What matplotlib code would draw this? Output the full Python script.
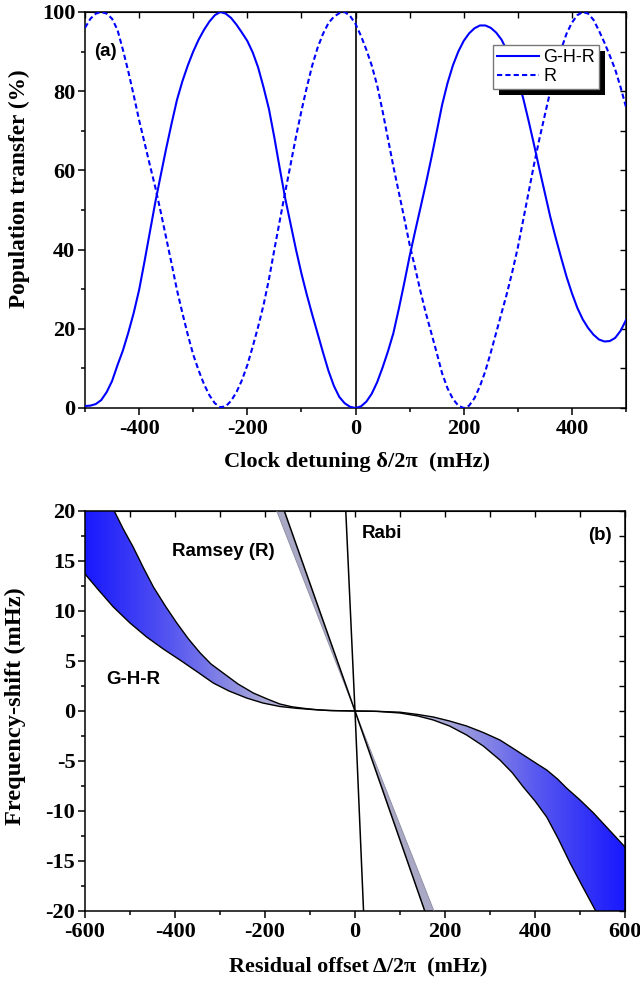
import numpy as np
import matplotlib
matplotlib.use("Agg")
import matplotlib.pyplot as plt
from matplotlib.patches import Polygon, Rectangle
from matplotlib.colors import LinearSegmentedColormap
from matplotlib.ticker import MultipleLocator

plt.rcParams["axes.unicode_minus"] = False

# ---------------- Panel (a) data ----------------
det_x = list(range(-500, 501, 10))
ghr_pop = [0.5, 0.6, 1.0, 2.0, 4.0, 6.8, 10.8, 14.5, 19.0, 24.0,
           29.8, 37.0, 44.5, 52.0, 58.8, 65.5, 71.8, 77.8, 82.5, 86.5,
           90.0, 93.0, 95.5, 97.6, 99.2, 100.0, 99.6, 98.5, 96.8, 94.8,
           92.7, 89.8, 86.0, 81.0, 75.5, 68.3, 60.5, 53.0, 46.5, 40.0,
           34.0, 28.6, 23.6, 18.8, 14.0, 9.4, 5.6, 2.8, 1.2, 0.3,
           0.0, 0.4, 1.6, 3.6, 6.5, 10.2, 14.3, 18.9, 25.0, 31.5,
           38.3, 44.5, 50.5, 56.6, 63.0, 69.7, 76.5, 82.0, 86.5, 90.0,
           92.7, 94.6, 95.9, 96.6, 96.6, 96.0, 94.8, 93.0, 90.2, 86.5,
           83.0, 78.2, 72.5, 66.5, 60.3, 54.3, 48.3, 43.0, 38.0, 33.2,
           29.0, 25.3, 22.4, 20.2, 18.5, 17.3, 16.8, 16.9, 17.7, 19.5,
           22.2]
r_pop = [96.0, 98.3, 99.6, 100.0, 99.6, 98.3, 95.5, 90.5, 85.0, 79.0,
         72.7, 67.0, 61.3, 55.7, 49.5, 43.0, 36.5, 29.8, 24.0, 18.5,
         13.5, 9.5, 6.0, 3.2, 1.2, 0.2, 0.4, 1.8, 4.0, 7.0,
         10.8, 15.5, 20.5, 26.0, 32.5, 40.0, 47.3, 54.5, 61.5, 68.5,
         75.0, 81.0, 86.5, 91.0, 94.5, 97.2, 98.8, 99.7, 100.0, 99.0,
         97.0, 94.0, 90.5, 86.5, 81.5, 75.0, 68.0, 61.0, 54.5, 48.0,
         41.3, 35.5, 29.5, 24.0, 19.0, 14.0, 8.8, 5.0, 2.3, 0.6,
         0.0, 0.6, 2.5, 5.5, 9.3, 14.0, 19.0, 24.0, 29.0, 34.5,
         40.5, 47.5, 54.5, 61.5, 68.0, 74.0, 80.0, 85.5, 90.5, 94.5,
         97.3, 99.2, 100.0, 99.6, 98.0, 95.3, 92.3, 89.0, 85.5, 81.0,
         76.0]
legend_labels = ["G-H-R", "R"]

# ---------------- Panel (b) data ----------------
ghr_outer_x = [-600, -535, -515, -493, -470, -448, -420, -396, -370, -344, -320, -293,
               -260, -226, -195, -167, -140, -107, -80, -50, 0, 50, 100, 140, 174, 210,
               248, 285, 322, 350, 374, 400, 426, 452, 478, 505, 535, 600]
ghr_outer_y = [26, 20, 18.2, 16.4, 14.3, 12.4, 10.4, 8.8, 7.2, 5.8, 4.7, 3.8,
               2.7, 1.8, 1.2, 0.7, 0.42, 0.23, 0.11, 0.04, 0, -0.04, -0.2, -0.5, -0.9, -1.5,
               -2.4, -3.5, -4.9, -6.2, -7.6, -9.0, -10.6, -12.8, -15.2, -17.5, -20, -26]
ghr_inner_x = [-600, -570, -537, -500, -463, -426, -389, -350, -315, -280, -241, -205,
               -167, -130, -96, -60, 0, 40, 100, 140, 174, 210, 248, 285, 322, 350, 381,
               405, 426, 450, 470, 500, 530, 565, 600]
ghr_inner_y = [13.7, 12.1, 10.4, 8.8, 7.4, 6.2, 5.1, 3.9, 2.8, 2.0, 1.3, 0.8,
               0.45, 0.27, 0.15, 0.05, 0, -0.02, -0.12, -0.35, -0.6, -1.0, -1.5, -2.15, -2.9,
               -3.7, -4.6, -5.3, -5.9, -6.8, -7.7, -8.9, -10.2, -11.9, -13.6]
ramsey_a_x = [-157, 0, 155]      # black edge
ramsey_a_y = [20, 0, -20]
ramsey_b_x = [-174, 0, 175.5]    # grey edge
ramsey_b_y = [20, 0, -20]
rabi_x = [-20.5, 0, 19]
rabi_y = [20, 0, -20]

# ---------------- style ----------------
SERIF = "Liberation Serif"
SANS = "Liberation Sans"
TICK_FS = 16
LABEL_FS = 16.5
BLUE = "#0000ff"

fig = plt.figure(figsize=(6.4, 9.84), dpi=100)
W, H = 640, 984

def axes_px(l, t, r, b):
    return fig.add_axes([l / W, 1 - b / H, (r - l) / W, (b - t) / H])

def style_axes(ax, xmaj, xmin, ymaj, ymin):
    for s in ax.spines.values():
        s.set_linewidth(1.1)
    ax.xaxis.set_major_locator(MultipleLocator(xmaj))
    ax.xaxis.set_minor_locator(MultipleLocator(xmin))
    ax.yaxis.set_major_locator(MultipleLocator(ymaj))
    ax.yaxis.set_minor_locator(MultipleLocator(ymin))
    ax.tick_params(which="both", direction="out", width=1.1, top=False, right=False)
    ax.tick_params(which="major", length=5)
    ax.tick_params(which="minor", length=3)
    ax.tick_params(axis="x", pad=3)
    ax.tick_params(axis="y", pad=2)
    for lab in ax.get_xticklabels() + ax.get_yticklabels():
        lab.set_fontfamily(SERIF)
        lab.set_fontweight("bold")
        lab.set_fontsize(TICK_FS)
    sx = ax.secondary_xaxis("top")
    sx.xaxis.set_major_locator(MultipleLocator(xmin))
    sx.tick_params(direction="in", length=4, width=1.0, labeltop=False)
    sy = ax.secondary_yaxis("right")
    sy.yaxis.set_major_locator(MultipleLocator(ymin))
    sy.tick_params(direction="in", length=4.5, width=1.0, labelright=False)

# ---------------- Panel (a) ----------------
axa = axes_px(85, 12, 626, 408)
axa.set_xlim(-500, 500)
axa.set_ylim(0, 100)
axa.axvline(0, color="black", lw=1.2, zorder=1)
axa.plot(det_x, ghr_pop, color=BLUE, lw=1.5, label=legend_labels[0], zorder=3)
axa.plot(det_x, r_pop, color=BLUE, lw=1.5, ls=(0, (2.5, 1.5)), label=legend_labels[1], zorder=3)
style_axes(axa, 200, 100, 20, 10)
xla = axa.text(0, 0, "Clock detuning \u03b4/2\u03c0  (mHz)", fontfamily=SERIF, fontweight="bold",
               fontsize=LABEL_FS, ha="center", va="center", transform=None)
yla = axa.text(0, 0, "Population transfer (%)", fontfamily=SERIF, fontweight="bold",
               fontsize=LABEL_FS, ha="center", va="center", rotation=90, transform=None)
axa.text(0.017, 0.899, "(a)", transform=axa.transAxes, fontfamily=SANS, fontweight="bold",
         fontsize=13.5, ha="left", va="center")
leg = axa.legend(loc="upper right", bbox_to_anchor=(0.950, 0.917), borderaxespad=0,
                 fancybox=False, frameon=True, edgecolor="#777777", framealpha=1,
                 prop={"family": SANS, "size": 13}, handlelength=2.3, handletextpad=0.25,
                 labelspacing=0.12, borderpad=0.22)
leg.get_frame().set_linewidth(1.0)
leg.set_zorder(6)

# ---------------- Panel (b) ----------------
axb = axes_px(85, 511, 625, 911)
axb.set_xlim(-600, 600)
axb.set_ylim(-20, 20)

poly_pts = list(zip(ghr_outer_x, ghr_outer_y)) + list(zip(ghr_inner_x[::-1], ghr_inner_y[::-1]))
band = Polygon(poly_pts, closed=True, facecolor="none", edgecolor="none")
axb.add_patch(band)
grad_cmap = LinearSegmentedColormap.from_list(
    "ghr", [(0.0, (215/255, 215/255, 228/255)),
            (200/600, (170/255, 170/255, 215/255)),
            (300/600, (130/255, 130/255, 230/255)),
            (400/600, (90/255, 90/255, 240/255)),
            (550/600, (40/255, 40/255, 250/255)),
            (1.0, (25/255, 25/255, 255/255))])
gx = np.linspace(-600, 600, 601)
grad = np.tile(np.abs(gx) / 600.0, (2, 1))
im = axb.imshow(grad, extent=[-600, 600, -20, 20], cmap=grad_cmap, vmin=0, vmax=1,
                aspect="auto", origin="lower", zorder=1, interpolation="bilinear")
im.set_clip_path(band)
axb.plot(ghr_outer_x, ghr_outer_y, color="black", lw=1.0, zorder=3)
axb.plot(ghr_inner_x, ghr_inner_y, color="black", lw=1.0, zorder=3)

axb.fill(ramsey_a_x + ramsey_b_x[::-1], ramsey_a_y + ramsey_b_y[::-1],
         facecolor="#a9a9c6", edgecolor="none", zorder=2)
axb.plot(ramsey_b_x, ramsey_b_y, color="#8a8aa0", lw=0.6, zorder=3)
axb.plot(ramsey_a_x, ramsey_a_y, color="black", lw=1.1, zorder=3)

axb.plot(rabi_x, rabi_y, color="black", lw=1.1, zorder=3)

style_axes(axb, 200, 100, 5, 2.5)
xlb = axb.text(0, 0, "Residual offset \u0394/2\u03c0  (mHz)", fontfamily=SERIF, fontweight="bold",
               fontsize=LABEL_FS, ha="center", va="center", transform=None)
ylb = axb.text(0, 0, "Frequency-shift (mHz)", fontfamily=SERIF, fontweight="bold",
               fontsize=LABEL_FS, ha="center", va="center", rotation=90, transform=None)
axb.text(-293, 16.0, "Ramsey (R)", fontfamily=SANS, fontweight="bold", fontsize=13.5,
         ha="center", va="center", zorder=5)
axb.text(-493, 3.1, "G-H-R", fontfamily=SANS, fontweight="bold", fontsize=13.5,
         ha="center", va="center", zorder=5)
axb.text(16, 17.7, "Rabi", fontfamily=SANS, fontweight="bold", fontsize=13.5,
         ha="left", va="center", zorder=5)
axb.text(0.976, 0.94, "(b)", transform=axb.transAxes, fontfamily=SANS, fontweight="bold",
         fontsize=13.5, ha="right", va="center")

# place axis labels in pixel space (top-left origin), sized to target extents
fig.canvas.draw()
renderer = fig.canvas.get_renderer()
targets = [(xla, 357, 462, 265, False), (yla, 19.5, 189, 238, True),
           (xlb, 358, 966, 257, False), (ylb, 15, 706, 237, True)]
for art, cx, cy, ext, vert in targets:
    bb = art.get_window_extent(renderer)
    cur = bb.height if vert else bb.width
    art.set_fontsize(art.get_fontsize() * ext / cur)
    art.set_position((cx, H - cy))

fig.canvas.draw()
bb = leg.get_frame().get_window_extent(renderer)
inv = fig.transFigure.inverted()
(x0, y0) = inv.transform((bb.x0 + 6, bb.y0 - 6))
(x1, y1) = inv.transform((bb.x1 + 6, bb.y1 - 6))
shadow = Rectangle((x0, y0), x1 - x0, y1 - y0, transform=fig.transFigure,
                   facecolor="black", edgecolor="none", zorder=5.5, clip_on=False)
axa.add_patch(shadow)

fig.savefig("out.png", dpi=100)
